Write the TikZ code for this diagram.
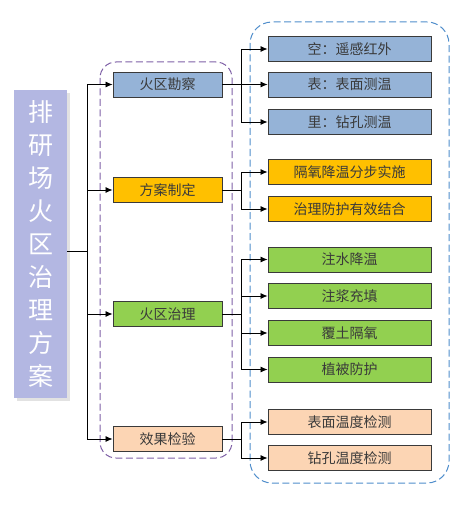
\documentclass[tikz,border=0pt]{standalone}
\usepackage{fontspec}
\setmainfont{Noto Sans CJK SC}
\usetikzlibrary{arrows.meta,shadows,calc}
\definecolor{cblue}{HTML}{95B3D7}
\definecolor{corange}{HTML}{FFC000}
\definecolor{cgreen}{HTML}{92D050}
\definecolor{cpeach}{HTML}{FCD5B4}
\definecolor{ctitle}{HTML}{B3B7E2}
\definecolor{cpurple}{HTML}{7E5FA6}
\definecolor{cdblue}{HTML}{4F8DCB}
\definecolor{ctext}{HTML}{3A3A3A}
\tikzset{
  box/.style={draw=ctext, line width=0.9pt, minimum height=25pt, inner sep=0pt, text=ctext, font=\fontsize{14}{16}\selectfont},
  midbox/.style={box, minimum width=109pt},
  leafbox/.style={box, minimum width=163pt},
  arr/.style={-{Latex[length=7pt,width=6pt]}, line width=0.8pt},
  conn/.style={line width=0.8pt},
  frame/.style={line width=1pt, dash pattern=on 7pt off 3.5pt},
}
\begin{document}
\begin{tikzpicture}[x=1pt,y=-1pt]
\useasboundingbox (0,0) rectangle (463,505);
% group frames
\draw[frame, cpurple, rounded corners=16pt] (100,62) rectangle (232,458);
\draw[frame, cdblue, rounded corners=22pt] (250,22) rectangle (449,483);
% title
\node[fill=ctitle, minimum width=53pt, minimum height=308pt, inner sep=0pt, text=white, align=center,
  font=\fontsize{25}{33}\selectfont, drop shadow={shadow xshift=3pt, shadow yshift=-3pt, fill=gray!45}]
  (title) at (40.5,244) {排\\研\\场\\火\\区\\治\\理\\方\\案};
% second level
\node[midbox, fill=cblue] (a1) at (167.5,84.5) {火区勘察};
\node[midbox, fill=corange] (a2) at (167.5,190) {方案制定};
\node[midbox, fill=cgreen] (a3) at (167.5,314) {火区治理};
\node[midbox, fill=cpeach] (a4) at (167.5,439) {效果检验};
% third level
\node[leafbox, fill=cblue] (b1) at (349.5,49) {空：遥感红外};
\node[leafbox, fill=cblue] (b2) at (349.5,84.5) {表：表面测温};
\node[leafbox, fill=cblue] (b3) at (349.5,122) {里：钻孔测温};
\node[leafbox, fill=corange] (c1) at (349.5,172) {隔氧降温分步实施};
\node[leafbox, fill=corange] (c2) at (349.5,209) {治理防护有效结合};
\node[leafbox, fill=cgreen] (d1) at (349.5,259.5) {注水降温};
\node[leafbox, fill=cgreen] (d2) at (349.5,296) {注浆充填};
\node[leafbox, fill=cgreen] (d3) at (349.5,333) {覆土隔氧};
\node[leafbox, fill=cgreen] (d4) at (349.5,369.5) {植被防护};
\node[leafbox, fill=cpeach] (e1) at (349.5,422) {表面温度检测};
\node[leafbox, fill=cpeach] (e2) at (349.5,458) {钻孔温度检测};
% trunk
\coordinate (t) at (87,251);
\draw[conn] (title.east |- t) -- (t);
\draw[conn] (t |- a1) -- (t |- a4);
\foreach \n in {a1,a2,a3,a4}{\draw[arr] (t |- \n) -- (\n.west);}
% branches
\coordinate (s) at (241,0);
\draw[conn] (a1.east) -- (s |- a1);
\draw[conn] (s |- b1) -- (s |- b3);
\foreach \n in {b1,b2,b3}{\draw[arr] (s |- \n) -- (\n.west);}
\draw[conn] (a2.east) -- (s |- a2);
\draw[conn] (s |- c1) -- (s |- c2);
\foreach \n in {c1,c2}{\draw[arr] (s |- \n) -- (\n.west);}
\draw[conn] (a3.east) -- (s |- a3);
\draw[conn] (s |- d1) -- (s |- d4);
\foreach \n in {d1,d2,d3,d4}{\draw[arr] (s |- \n) -- (\n.west);}
\draw[conn] (a4.east) -- (s |- a4);
\draw[conn] (s |- e1) -- (s |- e2);
\foreach \n in {e1,e2}{\draw[arr] (s |- \n) -- (\n.west);}
\end{tikzpicture}
\end{document}
